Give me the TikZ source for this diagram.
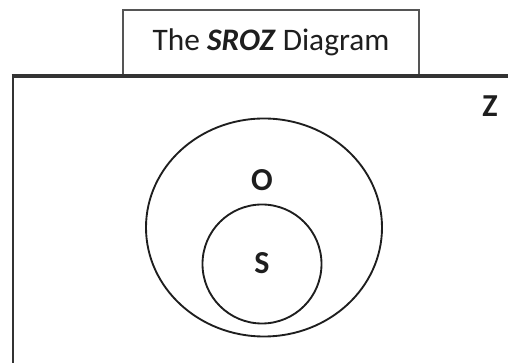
\documentclass[tikz,border=0pt]{standalone}
\usepackage{fontspec}
\setmainfont{Carlito}
\usetikzlibrary{shapes.geometric}
\definecolor{frame}{HTML}{333333}
\definecolor{boxline}{HTML}{555555}
\definecolor{ink}{HTML}{1E1E1E}
\begin{document}
\begin{tikzpicture}[x=0.75pt,y=-0.75pt,
  universe/.style={draw=frame,line width=1.9pt},
  titlebox/.style={draw=boxline,line width=0.9pt,minimum width=296*0.75pt,minimum height=65*0.75pt,inner sep=0pt,font=\fontsize{23.5}{26}\selectfont,text=ink},
  setline/.style={draw=ink,line width=1.4pt},
  setlabel/.style={font=\bfseries\fontsize{24}{28}\selectfont,text=ink,inner sep=0pt}]
\useasboundingbox (0,0) rectangle (508,363);
\begin{scope}
  \clip (0,0) rectangle (508,363);
  % universe Z, running off the right and bottom edges
  \node[universe,anchor=north west,minimum width=520*0.75pt,minimum height=310*0.75pt,inner sep=0pt] (zbox) at (11.5,75) {};
\end{scope}
% title tab sitting on top of the universe
\node[titlebox,fill=white] (title) at (271,42.5) {The \textbf{\textit{SROZ}} Diagram};
\draw[universe] (11.5,75) -- (508,75);
% nested sets
\node[setline,ellipse,minimum width=236*0.75pt,minimum height=218*0.75pt,inner sep=0pt] (obig) at (264,227.5) {};
\node[setline,circle,minimum size=119*0.75pt,inner sep=0pt] (ssmall) at (262,264) {};
\node[setlabel] (zlabel) at (490,106) {Z};
\node[setlabel] (olabel) at (262,180.5) {O};
\node[setlabel] (slabel) at (262,263) {S};
\end{tikzpicture}
\end{document}
